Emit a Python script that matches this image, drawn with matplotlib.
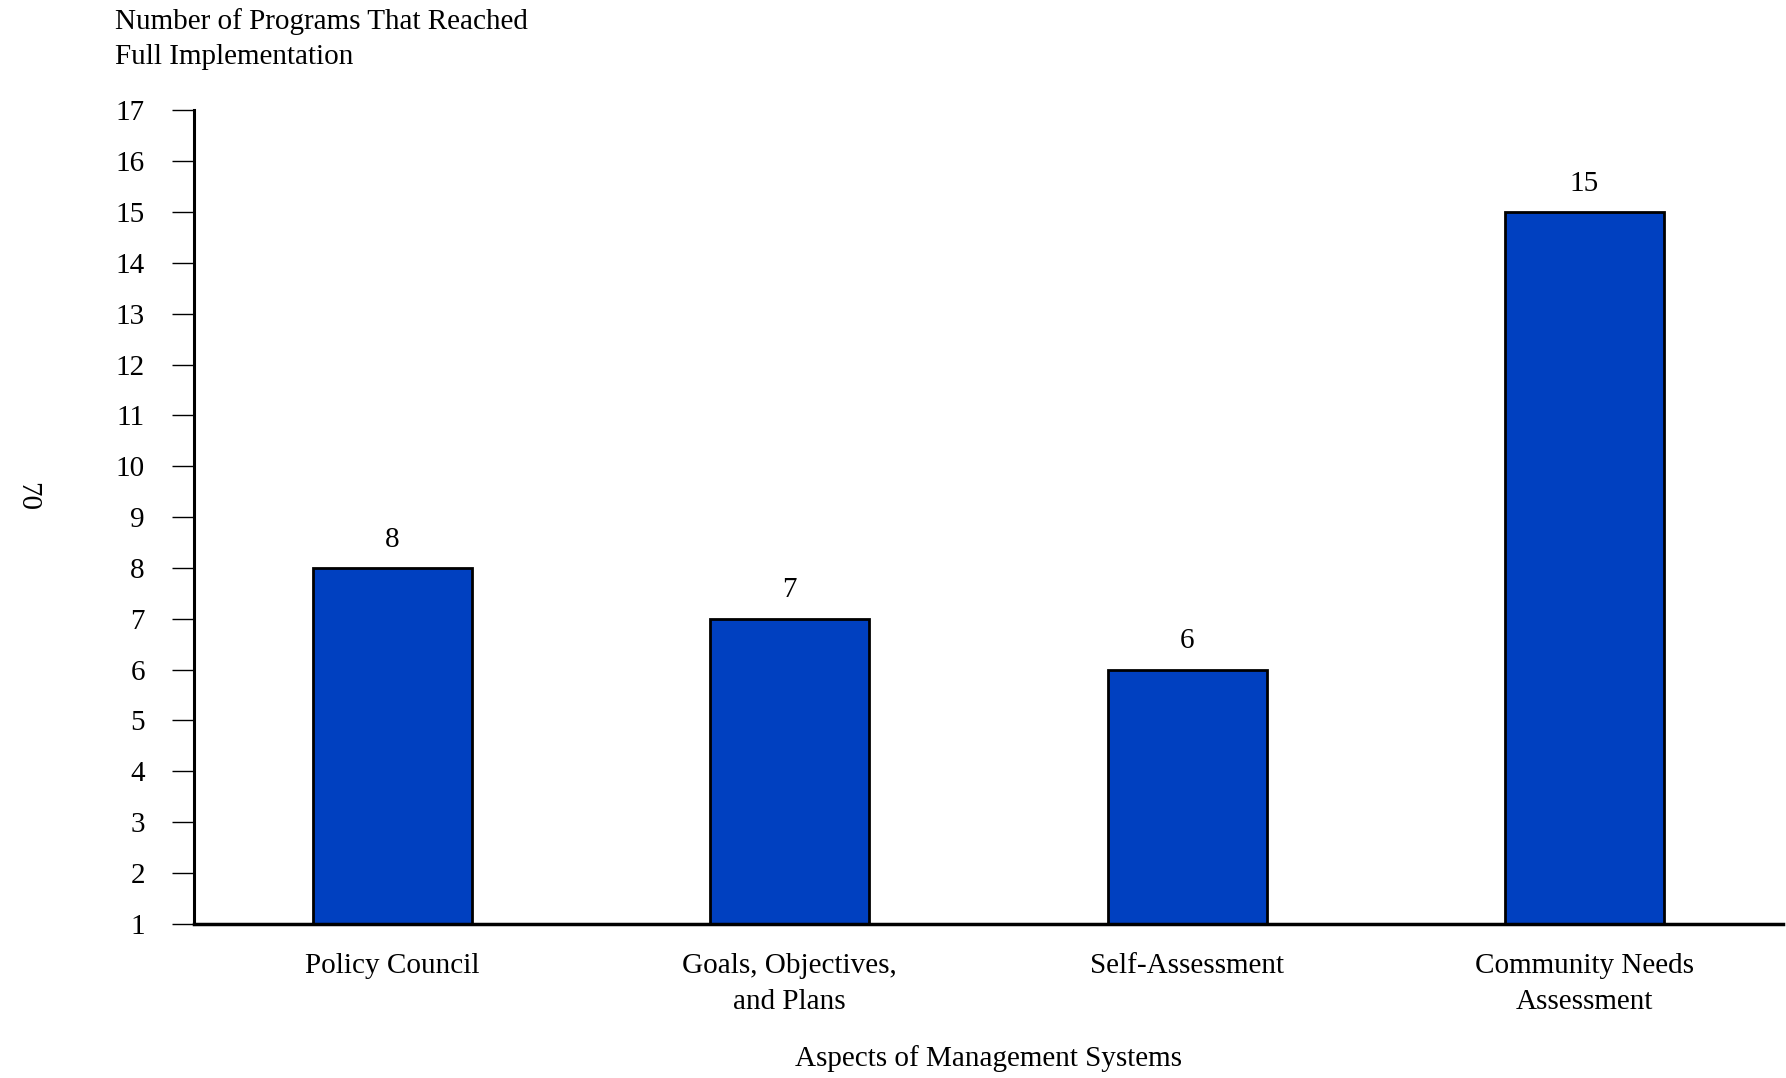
import numpy as np
import matplotlib.pyplot as plt

# chart data
categories = ["Policy Council", "Goals, Objectives,\nand Plans",
              "Self-Assessment", "Community Needs\nAssessment"]
programs = [8, 7, 6, 15]
y_ticks = list(range(1, 18))

plt.rcParams['font.family'] = ['Liberation Serif', 'DejaVu Serif']

fig = plt.figure(figsize=(17.86, 10.78), dpi=100)
ax = fig.add_axes([0.1084, 0.1431, 0.890, 0.7544])

x = np.arange(len(categories))
ax.bar(x, [v - 1 for v in programs], bottom=1, width=0.4,
       color='#0040C0', edgecolor='black', linewidth=2, zorder=2)

for xi, v in zip(x, programs):
    ax.annotate(str(v), (xi, v), xytext=(0, 11), textcoords='offset points',
                ha='center', va='bottom', fontsize=21)

ax.set_xlim(-0.5, 3.5)
ax.set_ylim(1, 17)
ax.set_yticks(y_ticks)
ax.set_yticklabels([str(t) for t in y_ticks], fontsize=21)
ax.set_xticks(x)
ax.set_xticklabels(categories, fontsize=21, linespacing=1.48)
ax.tick_params(axis='x', length=0, pad=21)
ax.tick_params(axis='y', length=16, width=1, pad=19)

for s in ['top', 'right']:
    ax.spines[s].set_visible(False)
ax.spines['left'].set_linewidth(2.2)
ax.spines['bottom'].set_linewidth(2.5)

ax.set_xlabel("Aspects of Management Systems", fontsize=21, labelpad=22)

fig.text(115 / 1786, 1 - 8 / 1078, "Number of Programs That Reached\nFull Implementation",
         ha='left', va='top', fontsize=21, linespacing=1.43)
fig.text(27 / 1786, 1 - 497 / 1078, "70", rotation=270, ha='center', va='center',
         fontsize=21)

fig.savefig("out.png", dpi=100)
